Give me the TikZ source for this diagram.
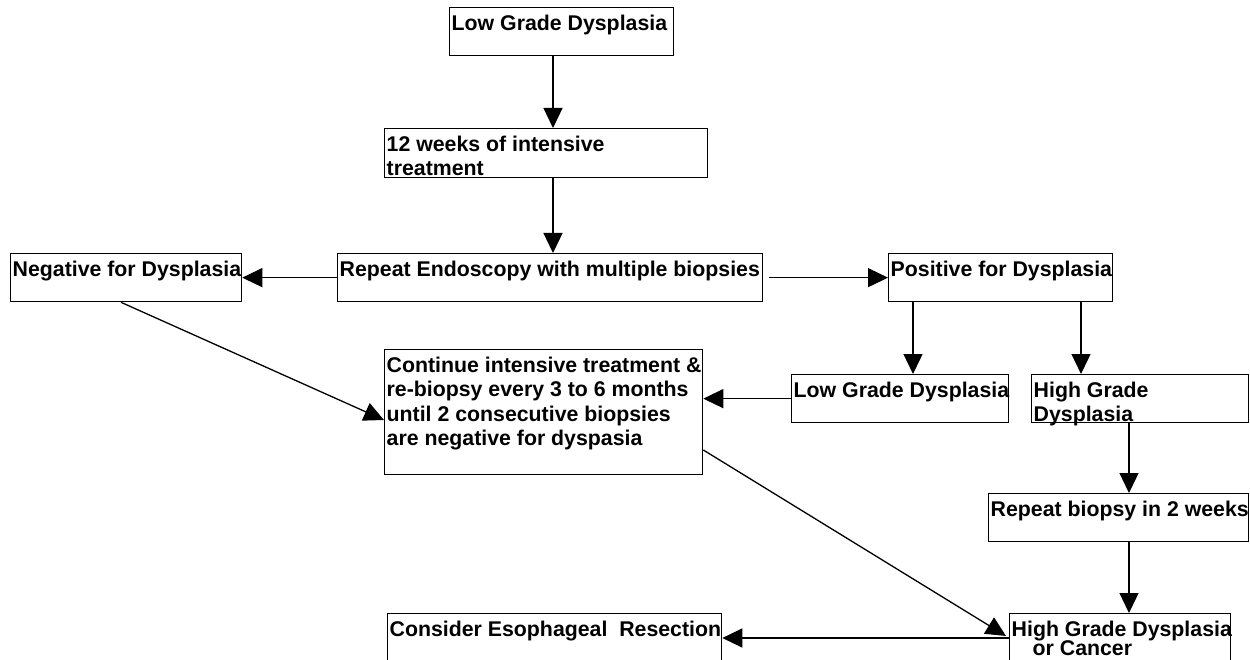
\documentclass[tikz,border=0pt]{standalone}
\usepackage{fontspec}
\setmainfont{Liberation Sans}
\usetikzlibrary{arrows.meta,calc}
\tikzset{
  boxshape/.style={draw=black, line width=1.3pt, inner sep=0pt, anchor=north west, fill=white},
  txt/.style={anchor=north west, inner xsep=2.5pt, inner ysep=7.5pt, align=left,
    font=\fontsize{21.3}{24.5}\selectfont\bfseries},
  arr/.style={line width=1.3pt, -{Triangle[length=20pt,width=19pt]}},
}
\newcommand\bx[6]{%
  \node[boxshape, minimum width=#4pt, minimum height=#5pt] (#1) at (#2,#3) {};
  \node[txt] (#1t) at (#1.north west) {#6};}
\begin{document}
\begin{tikzpicture}[x=1pt,y=-1pt]
\fill[white] (0,0) rectangle (1250,660);
\useasboundingbox (0,0) rectangle (1250,660);
\bx{top}{449}{7}{224}{48}{Low Grade Dysplasia}
\bx{wk}{384}{128}{323}{49}{12 weeks of intensive\\treatment}
\bx{rep}{337}{253}{425}{48}{Repeat Endoscopy with multiple biopsies}
\bx{neg}{10}{253}{231}{48}{Negative for Dysplasia}
\bx{pos}{888}{253}{224}{48}{Positive for Dysplasia}
\bx{lgd}{791}{374}{217}{48}{Low Grade Dysplasia}
\bx{hgd}{1031}{374}{217}{48}{High Grade\\Dysplasia}
\bx{cont}{384}{349}{318}{125}{Continue intensive treatment \&\\re-biopsy every 3 to 6 months\\until 2 consecutive biopsies\\are negative for dyspasia}
\bx{rb}{988}{493}{260}{48}{Repeat biopsy in 2 weeks}
\bx{cons}{387}{613}{334}{60}{Consider Esophageal\ \ Resection}
\bx{hgdc}{1009}{613}{221}{60}{High Grade Dysplasia\\[-5pt]\hspace*{21pt}or Cancer}
% connectors
\draw[arr] (553,0 |- top.south) -- (553,0 |- wk.north);
\draw[arr] (553,0 |- wk.south) -- (553,0 |- rep.north);
\draw[arr] (rep.west) -- (neg.east);
\draw[arr, shorten <=6pt] (rep.east) -- (pos.west);
\draw[arr] (121,0 |- neg.south) -- (cont.west |- 0,420);
\draw[arr] (913,0 |- pos.south) -- (913,0 |- lgd.north);
\draw[arr] (1081,0 |- pos.south) -- (1081,0 |- hgd.north);
\draw[arr] (lgd.west) -- (cont.east |- lgd.west);
\draw[arr] (1129,0 |- hgd.south) -- (1129,0 |- rb.north);
\draw[arr] (1129,0 |- rb.south) -- (1129,0 |- hgdc.north);
\draw[arr] (cont.east |- 0,450) -- ($(hgdc.west |- 0,636)+(-3,0)$);
\draw[arr] (hgdc.west |- 0,638) -- (cons.east |- 0,638);
\end{tikzpicture}
\end{document}
